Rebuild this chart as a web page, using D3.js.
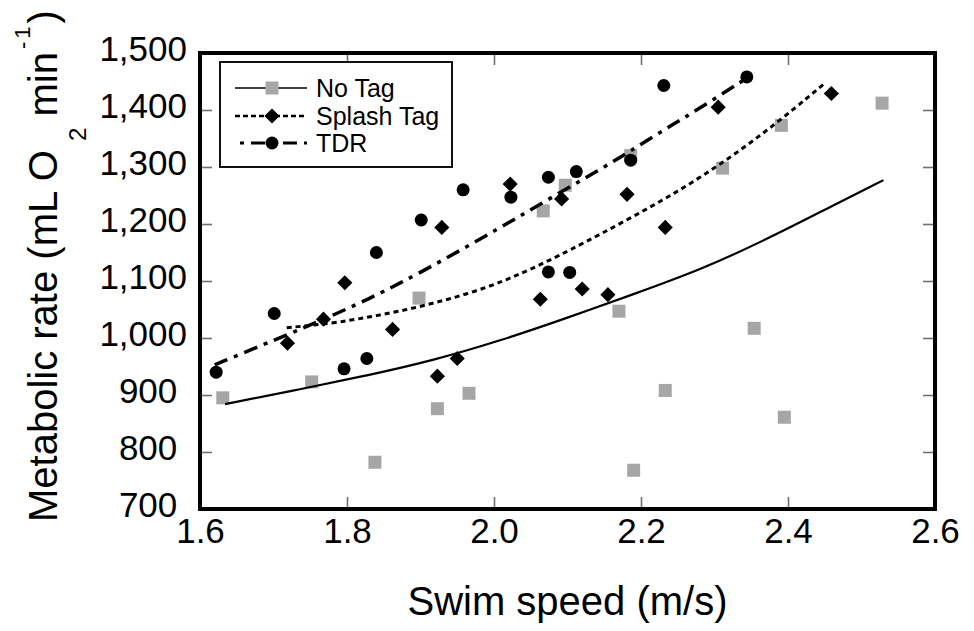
<!DOCTYPE html>
<html>
<head>
<meta charset="utf-8">
<script src="https://cdn.jsdelivr.net/npm/d3@7"></script>
<style>
    body { margin: 0; background: #fff; }
    svg { display: block; font-family: Arial, "Liberation Sans", sans-serif; }
</style>
</head>
<body>
<svg id="chart"></svg>
<script>
// measured points
const noTagSpeed = [1.631, 1.752, 1.838, 1.898, 1.923, 1.966, 2.067, 2.097, 2.170, 2.186, 2.190, 2.233, 2.311, 2.354, 2.391, 2.395, 2.528];
const noTagRate = [895, 923, 782, 1070, 876, 903, 1223, 1268, 1047, 1320, 768, 908, 1298, 1017, 1373, 861, 1412];

const splashSpeed = [1.719, 1.768, 1.797, 1.862, 1.923, 1.929, 1.950, 2.022, 2.063, 2.092, 2.120, 2.155, 2.181, 2.233, 2.305, 2.459];
const splashRate = [991, 1033, 1097, 1015, 933, 1194, 964, 1270, 1068, 1244, 1086, 1076, 1252, 1194, 1405, 1429];

const tdrSpeed = [1.622, 1.701, 1.796, 1.827, 1.840, 1.901, 1.958, 2.023, 2.074, 2.074, 2.103, 2.112, 2.186, 2.231, 2.344];
const tdrRate = [940, 1043, 946, 964, 1150, 1207, 1260, 1247, 1282, 1116, 1115, 1292, 1312, 1443, 1458];

// fitted curves
const noTagFitSpeed = [1.634, 1.736, 1.827, 1.918, 2.008, 2.099, 2.190, 2.280, 2.371, 2.462, 2.530];
const noTagFitRate = [884, 910, 934, 961, 995, 1035, 1077, 1119, 1173, 1233, 1277];

const splashFitSpeed = [1.718, 1.781, 1.827, 1.872, 1.918, 1.963, 2.008, 2.049, 2.099, 2.190, 2.280, 2.371, 2.450];
const splashFitRate = [1018, 1026, 1036, 1047, 1061, 1077, 1097, 1120, 1151, 1213, 1279, 1362, 1447];

const tdrFitSpeed = [1.620, 1.691, 1.736, 1.781, 1.827, 1.872, 1.927, 2.008, 2.072, 2.144, 2.184, 2.235, 2.280, 2.344];
const tdrFitRate = [953, 991, 1015, 1040, 1067, 1096, 1134, 1193, 1242, 1295, 1327, 1368, 1403, 1456];

const xTicks = [1.6, 1.8, 2.0, 2.2, 2.4, 2.6];
const yTicks = [700, 800, 900, 1000, 1100, 1200, 1300, 1400, 1500];
const legendNames = ["No Tag", "Splash Tag", "TDR"];

const zip = (xs, ys) => xs.map((x, i) => ({ x: x, y: ys[i] }));

const margin = { top: 53, right: 39, bottom: 122, left: 200 };
const width = 735, height = 456;

const svg = d3.select("#chart")
    .attr("width", 974)
    .attr("height", 631);

const x = d3.scaleLinear().domain([1.6, 2.6]).range([margin.left, margin.left + width]);
const y = d3.scaleLinear().domain([700, 1500]).range([margin.top + height, margin.top]);

const gray = "#a6a6a6";
const tickGray = "#707070";

// inward ticks on all four sides (inner values only)
const innerX = xTicks.slice(1, -1);
const innerY = yTicks.slice(1, -1);
const tickLen = 12;

svg.append("g")
    .attr("transform", `translate(0, ${margin.top + height})`)
    .call(d3.axisBottom(x).tickValues(innerX).tickSize(-tickLen).tickFormat(""))
    .call(g => g.select(".domain").remove());
svg.append("g")
    .attr("transform", `translate(0, ${margin.top})`)
    .call(d3.axisTop(x).tickValues(innerX).tickSize(-tickLen).tickFormat(""))
    .call(g => g.select(".domain").remove());
svg.append("g")
    .attr("transform", `translate(${margin.left}, 0)`)
    .call(d3.axisLeft(y).tickValues(innerY).tickSize(-tickLen).tickFormat(""))
    .call(g => g.select(".domain").remove());
svg.append("g")
    .attr("transform", `translate(${margin.left + width}, 0)`)
    .call(d3.axisRight(y).tickValues(innerY).tickSize(-tickLen).tickFormat(""))
    .call(g => g.select(".domain").remove());
svg.selectAll(".tick line").attr("stroke", tickGray).attr("stroke-width", 1.6);

// tick labels
const fmt = d3.format(",");
svg.append("g")
    .attr("transform", `translate(0, ${margin.top + height})`)
    .call(d3.axisBottom(x).tickValues(xTicks).tickSize(0).tickPadding(9).tickFormat(d3.format(".1f")))
    .call(g => g.select(".domain").remove())
    .selectAll("text")
    .attr("fill", "#000")
    .style("font-size", "35px")
    .style("font-family", "Arial, 'Liberation Sans', sans-serif");

svg.append("g")
    .attr("transform", `translate(${margin.left}, 0)`)
    .call(d3.axisLeft(y).tickValues(yTicks).tickSize(0).tickPadding(13)
        .tickFormat(d => d < 1000 ? fmt(d) + "\u00a0" : fmt(d)))
    .call(g => g.select(".domain").remove())
    .selectAll("text")
    .attr("fill", "#000")
    .attr("dy", "0.2em")
    .style("font-size", "35px")
    .style("font-family", "Arial, 'Liberation Sans', sans-serif");

// points
const plot = svg.append("g");

plot.selectAll(".notag")
    .data(zip(noTagSpeed, noTagRate))
    .join("path")
    .attr("class", "notag")
    .attr("d", d3.symbol(d3.symbolSquare, 169))
    .attr("transform", d => `translate(${x(d.x)}, ${y(d.y)})`)
    .attr("fill", gray);

plot.selectAll(".splash")
    .data(zip(splashSpeed, splashRate))
    .join("path")
    .attr("class", "splash")
    .attr("d", d3.symbol(d3.symbolSquare, 115))
    .attr("transform", d => `translate(${x(d.x)}, ${y(d.y)}) rotate(45)`)
    .attr("fill", "#000");

plot.selectAll(".tdr")
    .data(zip(tdrSpeed, tdrRate))
    .join("circle")
    .attr("class", "tdr")
    .attr("cx", d => x(d.x))
    .attr("cy", d => y(d.y))
    .attr("r", 6.5)
    .attr("fill", "#000");

// fitted lines
const line = d3.line()
    .x(d => x(d.x))
    .y(d => y(d.y))
    .curve(d3.curveBasis);

plot.append("path")
    .datum(zip(noTagFitSpeed, noTagFitRate))
    .attr("d", line)
    .attr("fill", "none")
    .attr("stroke", "#000")
    .attr("stroke-width", 2.2);

plot.append("path")
    .datum(zip(splashFitSpeed, splashFitRate))
    .attr("d", line)
    .attr("fill", "none")
    .attr("stroke", "#000")
    .attr("stroke-width", 3)
    .attr("stroke-dasharray", "5,4");

plot.append("path")
    .datum(zip(tdrFitSpeed, tdrFitRate))
    .attr("d", line)
    .attr("fill", "none")
    .attr("stroke", "#000")
    .attr("stroke-width", 3.5)
    .attr("stroke-dasharray", "14,7,4,7");

// frame
svg.append("rect")
    .attr("x", margin.left)
    .attr("y", margin.top)
    .attr("width", width)
    .attr("height", height)
    .attr("fill", "none")
    .attr("stroke", "#000")
    .attr("stroke-width", 4);

// legend
const legend = svg.append("g").attr("transform", "translate(220, 62)");
legend.append("rect")
    .attr("width", 232)
    .attr("height", 105)
    .attr("fill", "#fff")
    .attr("stroke", "#111")
    .attr("stroke-width", 2);

const rows = [26, 54, 81];
const dashes = [null, "5,3", "14,7,4,7"];
const widths = [1.6, 2.5, 3];

legendNames.forEach((name, i) => {
    const row = legend.append("g").attr("transform", `translate(0, ${rows[i]})`);
    const ln = row.append("line")
        .attr("x1", 15).attr("x2", 87)
        .attr("stroke", "#000")
        .attr("stroke-width", widths[i]);
    if (dashes[i]) ln.attr("stroke-dasharray", dashes[i]);
    if (i == 2) ln.attr("stroke-dashoffset", 16);

    if (i == 0) {
        row.append("path").attr("d", d3.symbol(d3.symbolSquare, 169))
            .attr("transform", "translate(52, 0)").attr("fill", gray);
    } else if (i == 1) {
        row.append("path").attr("d", d3.symbol(d3.symbolSquare, 115))
            .attr("transform", "translate(52, 0) rotate(45)").attr("fill", "#000");
    } else {
        row.append("circle").attr("cx", 52).attr("r", 6.5).attr("fill", "#000");
    }

    row.append("text")
        .attr("x", 96)
        .attr("dy", "0.35em")
        .style("font-size", "25px")
        .text(name);
});

// axis titles
svg.append("text")
    .attr("x", margin.left + width / 2)
    .attr("y", 615)
    .attr("text-anchor", "middle")
    .style("font-size", "40px")
    .text("Swim speed (m/s)");

const yTitle = svg.append("text")
    .attr("transform", "translate(57, 522) rotate(-90)")
    .style("font-size", "40px");
yTitle.append("tspan").text("Metabolic rate (mL O");
yTitle.append("tspan").attr("dx", 9).attr("dy", 29).style("font-size", "24px").text("2");
yTitle.append("tspan").attr("dy", -29).text(" min");
yTitle.append("tspan").attr("dx", 3).attr("dy", -27).style("font-size", "22px")
    .style("letter-spacing", "3px").text("-1");
yTitle.append("tspan").attr("dx", 0).attr("dy", 27).text(")");
</script>
</body>
</html>
